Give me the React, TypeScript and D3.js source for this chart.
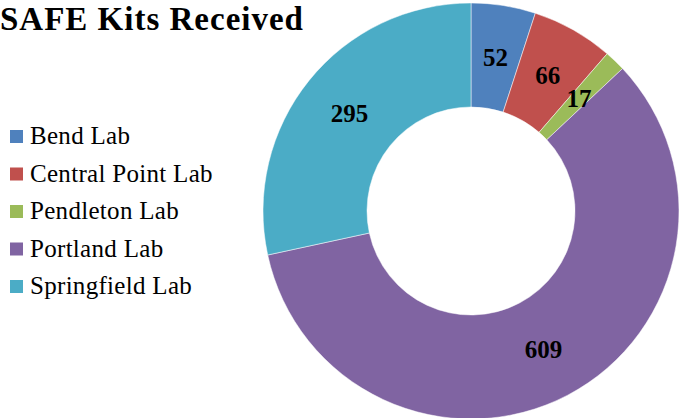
import React, { useEffect, useRef } from 'react';
import * as d3 from 'd3';

const labs = ['Bend Lab', 'Central Point Lab', 'Pendleton Lab', 'Portland Lab', 'Springfield Lab'];
const kits = [52, 66, 17, 609, 295];
const colors = ['#4F81BD', '#C0504D', '#9BBB59', '#8064A2', '#4BACC6'];

const W = 680;
const H = 418;
const FONT = '"Liberation Serif", "Times New Roman", serif';

export default function App() {
  const svgRef = useRef<SVGSVGElement>(null);

  useEffect(() => {
    document.body.style.margin = '0';
    if (!svgRef.current) return;
    const svg = d3.select(svgRef.current);
    svg.selectAll('*').remove();

    // title
    svg.append('text')
      .attr('x', 0)
      .attr('y', 30)
      .style('font-family', FONT)
      .style('font-weight', 'bold')
      .style('font-size', '33px')
      .style('letter-spacing', '1px')
      .attr('fill', '#000')
      .text('SAFE Kits Received');

    // donut
    const cx = 471, cy = 211;
    const outerR = 208, innerR = 104;
    const pie = d3.pie<number>().sort(null).value(d => d);
    const arc = d3.arc<d3.PieArcDatum<number>>().innerRadius(innerR).outerRadius(outerR);
    const arcs = pie(kits);

    const g = svg.append('g').attr('transform', `translate(${cx},${cy})`);
    g.selectAll('path')
      .data(arcs)
      .enter()
      .append('path')
      .attr('d', arc)
      .attr('fill', (_, i) => colors[i])
      .attr('stroke', '#fff')
      .attr('stroke-width', 0.5);

    g.selectAll('text.val')
      .data(arcs)
      .enter()
      .append('text')
      .attr('class', 'val')
      .attr('transform', d => `translate(${arc.centroid(d)})`)
      .attr('text-anchor', 'middle')
      .attr('dy', '0.35em')
      .style('font-family', FONT)
      .style('font-weight', 'bold')
      .style('font-size', '25px')
      .attr('fill', '#000')
      .text(d => String(d.data));

    // legend
    const legend = svg.append('g').attr('transform', 'translate(10,144)');
    labs.forEach((name, i) => {
      const row = legend.append('g').attr('transform', `translate(0,${i * 37.5})`);
      row.append('rect')
        .attr('x', 0)
        .attr('y', -14)
        .attr('width', 13)
        .attr('height', 13)
        .attr('fill', colors[i]);
      row.append('text')
        .attr('x', 20)
        .attr('y', 0)
        .style('font-family', FONT)
        .style('font-size', '25px')
        .style('letter-spacing', '0.3px')
        .attr('fill', '#000')
        .text(name);
    });
  }, []);

  return (
    <div style={{ position: 'absolute', left: 0, top: 0, width: W, height: H, background: '#fff' }}>
      <svg ref={svgRef} width={W} height={H} />
    </div>
  );
}
